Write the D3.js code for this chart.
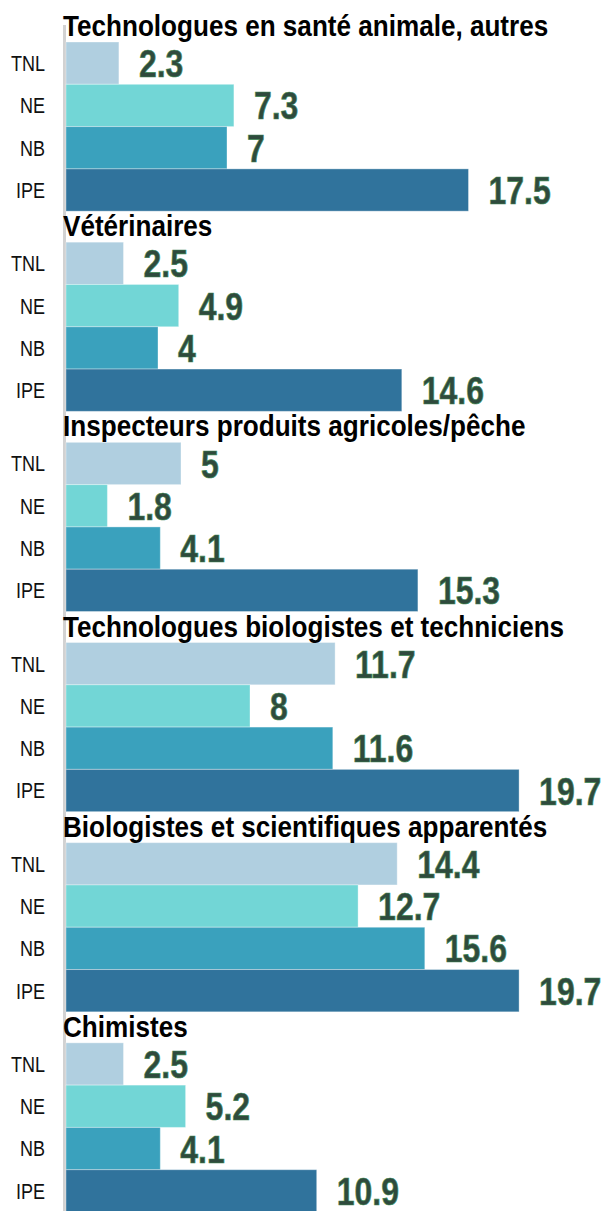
<!DOCTYPE html>
<html>
<head>
  <meta charset="UTF-8">
  <style>
    body {
      margin: 0;
      padding: 0;
      background-color: #fff;
    }
    svg {
      display: block;
    }
    text {
      font-family: "Liberation Sans", Arial, sans-serif;
    }
    .title {
      font-weight: bold;
      font-size: 29px;
      fill: #000;
    }
    .cat {
      font-size: 22px;
      fill: #111;
    }
    .val {
      font-weight: bold;
      font-size: 39px;
      fill: #2f4a3d;
      stroke: #3f8a55;
      stroke-width: 0.7px;
    }
  </style>
</head>
<body>
<svg></svg>
<script src="https://d3js.org/d3.v7.min.js"></script>

<script>
  let width = 605, height = 1211;

  // data
  let groups = [
    "Technologues en santé animale, autres",
    "Vétérinaires",
    "Inspecteurs produits agricoles/pêche",
    "Technologues biologistes et techniciens",
    "Biologistes et scientifiques apparentés",
    "Chimistes"
  ];
  let provinces = ["TNL", "NE", "NB", "IPE"];
  let tnlValues = [2.3, 2.5, 5, 11.7, 14.4, 2.5];
  let neValues = [7.3, 4.9, 1.8, 8, 12.7, 5.2];
  let nbValues = [7, 4, 4.1, 11.6, 15.6, 4.1];
  let ipeValues = [17.5, 14.6, 15.3, 19.7, 19.7, 10.9];
  let colors = ["#b0cfe0", "#72d6d6", "#3aa1bd", "#30739c"];

  let rows = groups.map((g, i) => ({
    group: g,
    values: [tnlValues[i], neValues[i], nbValues[i], ipeValues[i]]
      .map((v, j) => ({ prov: provinces[j], value: v }))
  }));

  let svg = d3.select("svg")
      .attr("width", width)
      .attr("height", height);

  let x = d3.scaleLinear().domain([0, 20]).range([66, 526]);

  let panel = d3.scaleBand().domain(groups).range([11, 1212]);
  let inner = d3.scaleBand().domain(provinces).range([31, panel.bandwidth()]);
  let color = d3.scaleOrdinal().domain(provinces).range(colors);

  // narrow look: squeeze text horizontally
  let squeeze = 0.82;
  let titleSqueeze = 0.9;

  // axis line on the left
  svg.append("line")
      .attr("x1", 64.5).attr("x2", 64.5)
      .attr("y1", 25).attr("y2", height)
      .attr("stroke", "#d2d2d2")
      .attr("stroke-width", 3);

  let g = svg.selectAll("g.panel")
      .data(rows)
      .enter()
      .append("g")
      .attr("class", "panel")
      .attr("transform", d => `translate(0, ${panel(d.group)})`);

  g.selectAll("rect")
      .data(d => d.values)
      .enter()
      .append("rect")
      .attr("x", x(0))
      .attr("y", d => inner(d.prov))
      .attr("width", d => x(d.value) - x(0))
      .attr("height", inner.bandwidth())
      .attr("fill", d => color(d.prov))
      .attr("stroke", "rgba(255,255,255,0.35)")
      .attr("stroke-width", 1);

  g.selectAll("text.val")
      .data(d => d.values)
      .enter()
      .append("text")
      .attr("class", "val")
      .attr("transform", d => `translate(${x(d.value) + 20}, ${inner(d.prov) + inner.bandwidth() / 2}) scale(${squeeze}, 1)`)
      .attr("dy", "0.36em")
      .text(d => d.value);

  // category labels
  g.selectAll("text.cat")
      .data(provinces)
      .enter()
      .append("text")
      .attr("class", "cat")
      .attr("transform", d => `translate(45, ${inner(d) + inner.bandwidth() / 2}) scale(${squeeze}, 1)`)
      .attr("dy", "0.36em")
      .attr("text-anchor", "end")
      .text(d => d);

  // titles
  g.append("text")
      .attr("class", "title")
      .attr("transform", `translate(63, 25) scale(${titleSqueeze}, 1)`)
      .text(d => d.group);
</script>
</body>
</html>
